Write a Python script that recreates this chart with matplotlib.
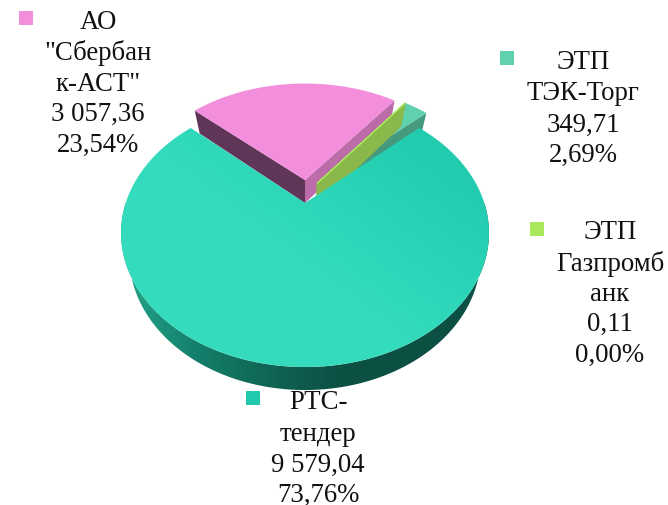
import numpy as np
import matplotlib
matplotlib.use("Agg")
import matplotlib.pyplot as plt
from matplotlib.colors import LinearSegmentedColormap
from matplotlib.patches import Polygon

# --- data -----------------------------------------------------------
names = ["АО \"Сбербанк-АСТ\"", "ЭТП Газпромбанк", "ЭТП ТЭК-Торг", "РТС-тендер"]
values = [3057.36, 0.11, 349.71, 9579.04]
value_labels = ["3 057,36", "0,11", "349,71", "9 579,04"]
share_labels = ["23,54%", "0,00%", "2,69%", "73,76%"]
name_lines = [["АО", "\"Сбербан", "к-АСТ\""],
              ["ЭТП", "Газпромб", "анк"],
              ["ЭТП", "ТЭК-Торг"],
              ["РТС-", "тендер"]]

# --- styles and layout ----------------------------------------------
top_colors = ["#f28edb", "#a8e85a", "#5fd1ae", "#20c8ac"]
side_a = ["#5f3558", "#8ab84a", "#459a7e"]   # left-facing radial wall
side_b = ["#bc6ca8", "#8ab84a", "#459a7e"]   # right-facing radial wall
offsets = [(0.0, 0.188), (0.07, 0.16), (0.07, 0.16), (0.0, 0.0)]
label_x = [98, 610, 583, 318]
label_y = [[29, 60, 91, 121, 152], [239, 271, 301, 331, 362],
           [69, 100, 132, 162], [409, 441, 472, 502]]
marker_xy = [(19, 11), (530, 222), (500, 51), (246, 391)]
START = 137.25
K, A, B = 0.2239, 127.3, 179.3
APEX = (305.0, 203.0)
DEPTH = 23.0
BOTTOM_SCALE = 0.955

plt.rcParams["font.family"] = ["Liberation Serif", "DejaVu Serif"]
fig = plt.figure(figsize=(6.68, 5.05), dpi=100, facecolor="white")
ax = fig.add_axes([0, 0, 1, 1])
ax.set_xlim(0, 668)
ax.set_ylim(505, 0)
ax.axis("off")


def project(x, y, bottom=False):
    d = 1 + K * y
    s = BOTTOM_SCALE if bottom else 1.0
    return np.column_stack([APEX[0] + s * B * x / d,
                            APEX[1] - A * y / d + (DEPTH if bottom else 0)])


def arc(a0, a1, off, bottom=False, n=240):
    t = np.radians(np.linspace(a0, a1, n))
    return project(np.cos(t) + off[0], np.sin(t) + off[1], bottom)


def point(off, bottom=False):
    return project(np.array([off[0]]), np.array([off[1]]), bottom)


def gradient(poly, stops, direction, zorder):
    """Fill a polygon with a linear gradient given in pixel space."""
    cm = LinearSegmentedColormap.from_list("g", stops)
    xx, yy = np.meshgrid(np.arange(0, 668), np.arange(0, 505))
    g = xx * direction[0] + yy * direction[1]
    g = (g - poly[:, 0].min() * direction[0] - poly[:, 1].min() * direction[1])
    span = np.ptp(poly[:, 0]) * abs(direction[0]) + np.ptp(poly[:, 1]) * abs(direction[1])
    im = ax.imshow(np.clip(g / span, 0, 1), cmap=cm, vmin=0, vmax=1,
                   extent=(0, 668, 505, 0), aspect="auto",
                   interpolation="bilinear", zorder=zorder)
    im.set_clip_path(Polygon(poly, transform=ax.transData))


fracs = np.array(values) / np.sum(values)
edges = START - 360 * np.concatenate([[0], np.cumsum(fracs)])

# small slices, drawn from the back to the front
z = 1
for i in [0, 2, 1]:
    a0, a1, off = edges[i], edges[i + 1], offsets[i]
    e0 = project(np.array([np.cos(np.radians(a0)) + off[0]]),
                 np.array([np.sin(np.radians(a0)) + off[1]]))
    e0b = project(np.array([np.cos(np.radians(a0)) + off[0]]),
                  np.array([np.sin(np.radians(a0)) + off[1]]), True)
    e1 = project(np.array([np.cos(np.radians(a1)) + off[0]]),
                 np.array([np.sin(np.radians(a1)) + off[1]]))
    e1b = project(np.array([np.cos(np.radians(a1)) + off[0]]),
                  np.array([np.sin(np.radians(a1)) + off[1]]), True)
    c, cb = point(off), point(off, True)
    lw = 0.8 if fracs[i] < 0.001 else 0
    if i == 0:
        ax.add_patch(Polygon(np.vstack([c, e0, e0b, cb]), fc=side_a[i], ec="none", zorder=z))
    ax.add_patch(Polygon(np.vstack([c, e1, e1b, cb]), fc=side_b[i],
                         ec=side_b[i] if lw else "none", lw=lw, zorder=z))
    ax.add_patch(Polygon(np.vstack([c, arc(a0, a1, off)]), fc=top_colors[i],
                         ec=top_colors[i] if lw else "none", lw=lw, zorder=z + 0.5))
    z += 1

# main slice
a0, a1, off = edges[3], edges[4], offsets[3]
wall_top = arc(180, 360, off)
wall_bot = arc(180, 360, off, True)[::-1]
gradient(np.vstack([wall_top, wall_bot]),
         ["#23a68a", "#14806b", "#0f6554", "#0c4f43", "#0c4f43", "#0d5247"], (1, 0), 6)
top_poly = np.vstack([point(off), arc(a0, a1, off)])
gradient(top_poly, ["#34dcbd", "#28d2b5", "#20c8ac", "#20c8ac", "#20c8ac"],
         (0.6, -0.8), 7)
ax.set_xlim(0, 668)
ax.set_ylim(505, 0)

# labels
for i in range(4):
    lines = name_lines[i] + [value_labels[i], share_labels[i]]
    for line, y in zip(lines, label_y[i]):
        ax.text(label_x[i], y, line, ha="center", va="baseline",
                fontsize=19.3, color="#111111", zorder=10)
    mx, my = marker_xy[i]
    ax.add_patch(Polygon([(mx, my), (mx + 14, my), (mx + 14, my + 14), (mx, my + 14)],
                         fc=top_colors[i], ec="none", zorder=10))

# title, cut off by the upper border of the picture
for x, s in [(219, "у"), (463, "р"), (480, "у")]:
    ax.text(x, -5, s, ha="center", va="baseline", fontsize=19, fontweight="bold",
            color="#0f5a46", clip_on=False)

fig.savefig("out.png", dpi=100)
